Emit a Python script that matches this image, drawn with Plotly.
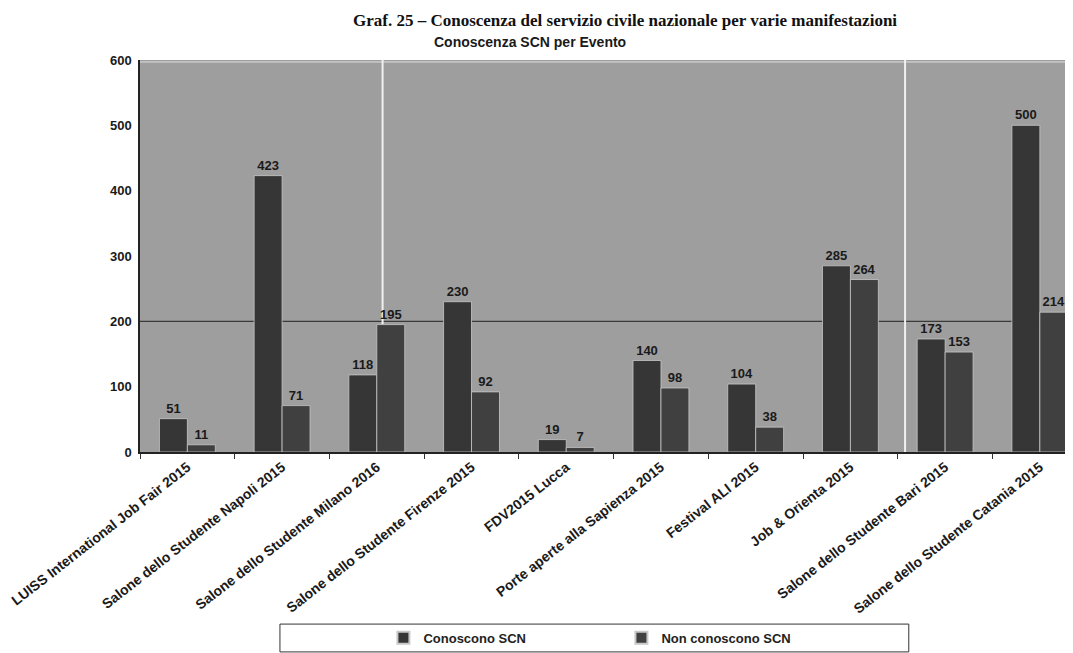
import plotly.graph_objects as go

categories = [
    "LUISS International Job Fair 2015",
    "Salone dello Studente Napoli 2015",
    "Salone dello Studente Milano 2016",
    "Salone dello Studente Firenze 2015",
    "FDV2015 Lucca",
    "Porte aperte alla Sapienza 2015",
    "Festival ALI 2015",
    "Job & Orienta 2015",
    "Salone dello Studente Bari 2015",
    "Salone dello Studente Catania 2015",
]
conoscono = [51, 423, 118, 230, 19, 140, 104, 285, 173, 500]
non_conoscono = [11, 71, 195, 92, 7, 98, 38, 264, 153, 214]
y_ticks = [0, 100, 200, 300, 400, 500, 600]

FONT = "Liberation Sans"

fig = go.Figure()
for name, vals, col in [("Conoscono SCN", conoscono, "#363636"),
                        ("Non conoscono SCN", non_conoscono, "#404040")]:
    fig.add_trace(go.Bar(
        x=categories, y=vals, name=name,
        marker=dict(color=col, line=dict(color="#c8c8c8", width=0.8)),
        text=[str(v) for v in vals], textposition="outside",
        textfont=dict(family=FONT, size=13, color="#1a1a1a", weight="bold"),
        cliponaxis=False,
    ))

fig.update_layout(
    width=1065, height=645,
    margin=dict(l=132, r=0, t=52, b=201),
    paper_bgcolor="white", plot_bgcolor="#9e9e9e",
    barmode="group", bargap=0.41, bargroupgap=0,
    showlegend=True,
    legend=dict(orientation="h", x=0.516, xanchor="center", y=-0.474, yanchor="middle",
                font=dict(family=FONT, size=13, color="#222", weight="bold"),
                entrywidth=193, entrywidthmode="pixels", bgcolor="rgba(0,0,0,0)",
                itemsizing="constant", itemwidth=30),
    xaxis=dict(range=[-0.5, 9.35], tickangle=-38, tickson="boundaries", ticks="outside",
               ticklen=5, tickcolor="#333", showline=True, linecolor="#222", linewidth=1.5,
               showgrid=False,
               tickfont=dict(family=FONT, size=14, color="#1a1a1a", weight="bold")),
    yaxis=dict(range=[0, 600], tickvals=y_ticks, showgrid=False, zeroline=False,
               showline=True, linecolor="#222", linewidth=1.5, ticks="",
               ticklabelstandoff=4,
               tickfont=dict(family=FONT, size=13, color="#1a1a1a", weight="bold")),
    annotations=[
        dict(text="Graf. 25 – Conoscenza del servizio civile nazionale per varie manifestazioni",
             xref="paper", yref="paper", x=0.52, y=1.10, xanchor="center", yanchor="middle",
             showarrow=False, font=dict(family="Liberation Serif", size=17, color="#111", weight="bold")),
        dict(text="Conoscenza SCN per Evento", xref="paper", yref="paper", x=0.418, y=1.046,
             xanchor="center", yanchor="middle", showarrow=False,
             font=dict(family=FONT, size=14, color="#1a1a1a", weight="bold")),
    ],
    shapes=[
        dict(type="line", xref="paper", yref="y", x0=0, x1=1, y0=200, y1=200,
             line=dict(color="#3a3a3a", width=1.2), layer="below"),
        dict(type="line", xref="paper", yref="y", x0=0, x1=1, y0=597, y1=597,
             line=dict(color="#e0e0e0", width=1), layer="below"),
        dict(type="line", xref="paper", yref="paper", x0=0.260, x1=0.260, y0=0, y1=1,
             line=dict(color="#f0f0f0", width=2), layer="below"),
        dict(type="line", xref="paper", yref="paper", x0=0.820, x1=0.820, y0=0, y1=1,
             line=dict(color="#f0f0f0", width=2), layer="below"),
        dict(type="rect", xref="paper", yref="paper", x0=0.150, x1=0.824, y0=-0.439, y1=-0.510,
             line=dict(color="#333", width=1), fillcolor="rgba(0,0,0,0)"),
    ],
)

fig.write_html("out.html")
